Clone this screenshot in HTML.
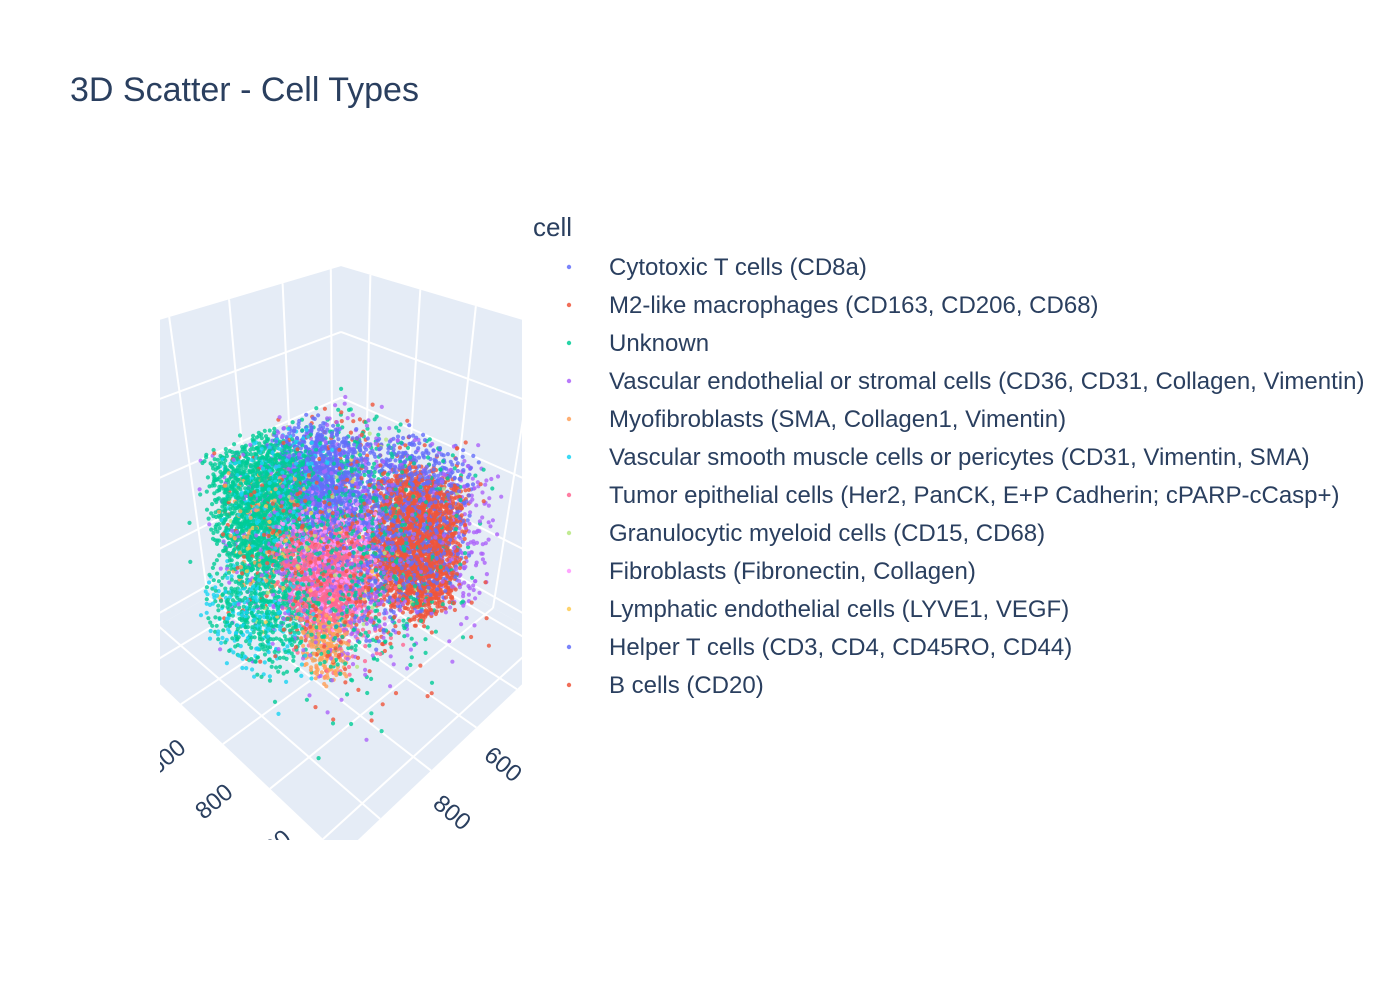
<!DOCTYPE html>
<html><head><meta charset="utf-8"><style>
body{margin:0;background:#fff;}
svg{display:block;font-family:"Liberation Sans",Arial,sans-serif;}
</style></head><body>
<svg id="chart" width="1400" height="1000" viewBox="0 0 1400 1000" xmlns="http://www.w3.org/2000/svg">
<rect width="1400" height="1000" fill="#fff"/>
<text x="70" y="101" font-size="34" fill="#2a3f5f">3D Scatter - Cell Types</text>
<defs><clipPath id="sceneclip"><rect x="160" y="100" width="362" height="740"/></clipPath></defs>
<g id="scene" clip-path="url(#sceneclip)"></g>
<g id="legend">
<text x="533" y="236" font-size="26" fill="#2a3f5f">cell</text>
</g>
</svg>
<script>
// ---- data ----
const categories = ["Cytotoxic T cells (CD8a)","M2-like macrophages (CD163, CD206, CD68)","Unknown","Vascular endothelial or stromal cells (CD36, CD31, Collagen, Vimentin)","Myofibroblasts (SMA, Collagen1, Vimentin)","Vascular smooth muscle cells or pericytes (CD31, Vimentin, SMA)","Tumor epithelial cells (Her2, PanCK, E+P Cadherin; cPARP-cCasp+)","Granulocytic myeloid cells (CD15, CD68)","Fibroblasts (Fibronectin, Collagen)","Lymphatic endothelial cells (LYVE1, VEGF)","Helper T cells (CD3, CD4, CD45RO, CD44)","B cells (CD20)"];
const colors = ["#636efa","#EF553B","#00cc96","#ab63fa","#FFA15A","#19d3f3","#FF6692","#B6E880","#FF97FF","#FECB52","#636efa","#EF553B"];
// cluster summaries: category index, center x, y, z, half-width x, y, z, count
const clusterCat = [0,0,1,1,2,2,2,3,3,4,4,5,5,6,7,8,9,10,11,2,1,3,5,6];
const clusterX   = [400,250,265,420,570,420,650,420,150,600,600,680,520,500,420,480,520,350,420,430,380,420,600,480];
const clusterY   = [425,680,700,540,375,540,450,540,780,660,420,420,400,550,540,540,480,600,540,540,600,560,480,600];
const clusterZ   = [62,55,48,50,59,50,34,50,48,31,55,32,62,42,50,45,50,50,50,42,42,45,32,35];
const spreadX    = [100,100,90,270,120,270,110,270,60,50,100,100,150,100,270,120,200,200,270,330,330,330,180,140];
const spreadY    = [125,130,107,270,105,270,150,270,80,60,80,130,100,100,270,120,200,200,270,330,330,330,180,140];
const spreadZ    = [11,18,18,25,14,23,12,23,20,9,15,12,11,12,23,15,20,20,23,32,32,32,16,16];
const clusterN   = [900,700,1700,150,1400,900,400,700,150,200,100,140,300,900,60,400,80,600,300,250,130,150,90,200];
const xTicks = [0,200,400,600,800];
const yTicks = [200,400,600,800,1000];
const zTicks = [20,40,60,80];
const xRange = [-45,938], yRange = [72,1062], zRange = [16,98];

// ---- projection ----
const D=4.17, FOC=738.7, CX=341, CY=520.2, S3=Math.sqrt(3), S2=Math.SQRT2, S6=Math.sqrt(6);
function uOf(x){return -1+2*(x-xRange[0])/(xRange[1]-xRange[0]);}
function vOf(y){return -1+2*(y-yRange[0])/(yRange[1]-yRange[0]);}
function wOf(z){return -1+2*(z-zRange[0])/(zRange[1]-zRange[0]);}
function proj(u,v,w){
  const e=D/S3, rx=u-e, ry=v-e, rz=w-e;
  const depth=-(rx+ry+rz)/S3;
  return [CX+FOC*((-rx+ry)/S2)/depth, CY-FOC*((-rx-ry+2*rz)/S6)/depth, depth];
}
const NS="http://www.w3.org/2000/svg";
const scene=document.getElementById('scene');
function mk(tag,attrs,parent){const el=document.createElementNS(NS,tag);for(const k in attrs)el.setAttribute(k,attrs[k]);(parent||scene).appendChild(el);return el;}
function poly(pts){return pts.map(p=>{const q=proj(p[0],p[1],p[2]);return q[0].toFixed(1)+','+q[1].toFixed(1);}).join(' ');}

let el;
el=mk('polygon',{points:poly([[-1,-1,-1],[1,-1,-1],[1,-1,1],[-1,-1,1]]),fill:'#E5ECF6'});


el=mk('polygon',{points:poly([[-1,-1,-1],[-1,1,-1],[-1,1,1],[-1,-1,1]]),fill:'#E5ECF6'});


el=mk('polygon',{points:poly([[-1,-1,-1],[1,-1,-1],[1,1,-1],[-1,1,-1]]),fill:'#E5ECF6'});



function gl(a,b,name){const p=proj(...a),q=proj(...b);const l=mk('line',{x1:p[0],y1:p[1],x2:q[0],y2:q[1],stroke:'#fff','stroke-width':2});

}
xTicks.forEach(t=>{const u=uOf(t);gl([u,-1,-1],[u,1,-1],'x-gridline');gl([u,-1,-1],[u,-1,1],'x-gridline');});
yTicks.forEach(t=>{const v=vOf(t);gl([-1,v,-1],[1,v,-1],'y-gridline');gl([-1,v,-1],[-1,v,1],'y-gridline');});
zTicks.forEach(t=>{const w=wOf(t);gl([-1,-1,w],[1,-1,w],'z-gridline');gl([-1,-1,w],[-1,1,w],'z-gridline');});

// points (box jitter around each cluster centre via Halton sequence)
function halton(i,b){let f=1,r=0;while(i>0){f/=b;r+=f*(i%b);i=Math.floor(i/b);}return r;}
let idx=1;const pts=[];
clusterCat.forEach((c,k)=>{
  for(let n=0;n<clusterN[k];n++,idx++){
    const x=clusterX[k]+spreadX[k]*(2*halton(idx,2)-1);
    const y=clusterY[k]+spreadY[k]*(2*halton(idx,3)-1);
    const z=clusterZ[k]+spreadZ[k]*(2*halton(idx,5)-1);
    const p=proj(uOf(x),vOf(y),wOf(z));
    pts.push([p[0],p[1],p[2],c]);
  }
});
pts.sort((a,b)=>b[2]-a[2]);
const pg=mk('g',{'fill-opacity':0.8});


pts.forEach(p=>{const c=mk('circle',{cx:p[0].toFixed(1),cy:p[1].toFixed(1),r:2.1,fill:colors[p[3]]},pg);

});

// tick labels
xTicks.forEach(t=>{const p=proj(uOf(t),1,-1);const lx=p[0]+71,ly=p[1]-5;const tx=mk('text',{x:lx,y:ly,'font-size':24,fill:'#2a3f5f','text-anchor':'middle','dominant-baseline':'middle',transform:`rotate(40 ${lx} ${ly})`});tx.textContent=t;

});
yTicks.forEach(t=>{const p=proj(1,vOf(t),-1);const lx=p[0]-55,ly=p[1]+14;const tx=mk('text',{x:lx,y:ly,'font-size':24,fill:'#2a3f5f','text-anchor':'middle','dominant-baseline':'middle',transform:`rotate(-40 ${lx} ${ly})`});tx.textContent=t;

});

// legend
const lg=document.getElementById('legend');
categories.forEach((name,i)=>{
  const y=267+38*i;
  const g=mk('g',{},lg);
  
  
  const c=mk('circle',{cx:569,cy:y,r:2.2,fill:colors[i],'fill-opacity':0.85},g);
  
  
  const t=mk('text',{x:609,y:y+8,'font-size':24,fill:'#2a3f5f'},g);
  t.textContent=name;
  
  
});
</script>
</body></html>
